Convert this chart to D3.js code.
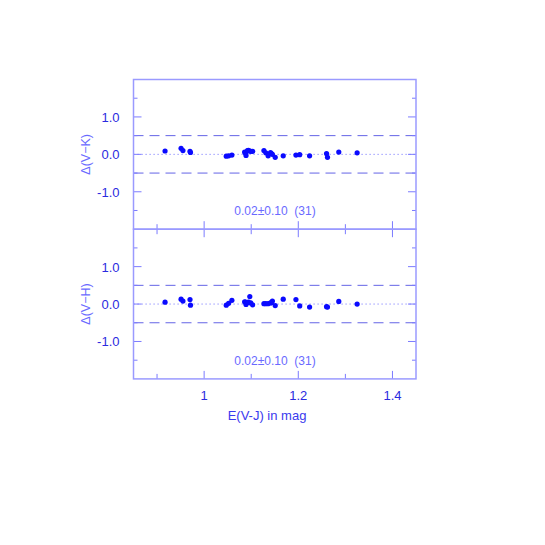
<!DOCTYPE html>
<html>
<head>
<meta charset="utf-8">
<script src="https://cdn.jsdelivr.net/npm/d3@7"></script>
<style>
  body { margin: 0; background: #fff; }
  svg text { font-family: "Liberation Sans", Arial, sans-serif; }
</style>
</head>
<body>
<svg id="chart" width="545" height="545"></svg>
<script>
// E(V-J) of each star, shared by both panels
const ebv = [0.917, 0.951, 0.955, 0.970, 0.971, 1.047, 1.052, 1.059, 1.086, 1.088,
             1.089, 1.092, 1.094, 1.097, 1.099, 1.103, 1.127, 1.131, 1.136, 1.141,
             1.143, 1.145, 1.151, 1.168, 1.195, 1.203, 1.224, 1.260, 1.262, 1.286, 1.325]
const dVK = [0.09, 0.16, 0.10, 0.08, 0.05, -0.05, -0.04, -0.02, 0.06, 0.03,
             -0.03, 0.10, 0.11, 0.09, 0.08, 0.08, 0.10, 0.04, -0.04, 0.05,
             0.02, 0.00, -0.08, -0.04, -0.02, -0.01, -0.04, 0.02, -0.08, 0.06, 0.04]
const dVH = [0.05, 0.13, 0.08, 0.12, -0.03, -0.03, 0.02, 0.10, 0.06, 0.05,
             -0.01, 0.04, 0.05, 0.20, 0.03, -0.02, 0.01, 0.01, 0.01, 0.03,
             0.04, 0.08, -0.04, 0.13, 0.12, -0.05, -0.08, -0.07, -0.08, 0.07, 0.00]
const panels = [
  { label: "\u0394(V\u2212K)", values: dVK, stat: "0.02\u00b10.10  (31)" },
  { label: "\u0394(V\u2212H)", values: dVH, stat: "0.02\u00b10.10  (31)" }
]
const xMajor = [1.0, 1.2, 1.4]
const xMinor = [0.9, 1.1, 1.3]
const yMajor = [-1, 0, 1]
const yMinor = [-1.5, -0.5, 0.5, 1.5]

const frameCol = "#9a9aff", tickCol = "#7b7bff"
const plotL = 133.5, plotR = 416, plotT = 79.5, panelH = 149.7

const svg = d3.select("#chart")
const x = d3.scaleLinear().domain([0.85, 1.45]).range([plotL, plotR])

panels.forEach((p, i) => {
  const y0 = plotT + i * panelH
  const y = d3.scaleLinear().domain([-2, 2]).range([y0 + panelH, y0])
  const g = svg.append("g")

  // guide lines
  g.selectAll("line.dash").data([-0.5, 0.5]).join("line")
    .attr("x1", plotL).attr("x2", plotR)
    .attr("y1", d => y(d)).attr("y2", d => y(d))
    .attr("stroke", "#6464e6").attr("stroke-width", 1)
    .attr("stroke-dasharray", "10,6")
  g.append("line")
    .attr("x1", plotL).attr("x2", plotR)
    .attr("y1", y(0)).attr("y2", y(0))
    .attr("stroke", "#8080ff").attr("stroke-width", 1)
    .attr("stroke-dasharray", "1.2,2.8")

  // y ticks (both sides, inward)
  const yt = yMajor.map(v => ({v, len: 8})).concat(yMinor.map(v => ({v, len: 4})))
  g.selectAll("line.yl").data(yt).join("line")
    .attr("x1", plotL).attr("x2", d => plotL + d.len)
    .attr("y1", d => y(d.v)).attr("y2", d => y(d.v))
    .attr("stroke", tickCol)
  g.selectAll("line.yr").data(yt).join("line")
    .attr("x1", plotR).attr("x2", d => plotR - d.len)
    .attr("y1", d => y(d.v)).attr("y2", d => y(d.v))
    .attr("stroke", tickCol)
  g.selectAll("text.yl").data(yMajor).join("text")
    .attr("x", plotL - 14).attr("y", d => y(d) + 5)
    .attr("text-anchor", "end").attr("font-size", 13)
    .attr("fill", "#2a2ae0")
    .text(d => d.toFixed(1))

  // x ticks on bottom edge, pointing up
  const xt = xMajor.map(v => ({v, len: 8})).concat(xMinor.map(v => ({v, len: 5})))
  g.selectAll("line.xb").data(xt).join("line")
    .attr("x1", d => x(d.v)).attr("x2", d => x(d.v))
    .attr("y1", y0 + panelH).attr("y2", d => y0 + panelH - d.len)
    .attr("stroke", tickCol)
  if (i > 0) {
    g.selectAll("line.xt").data(xt).join("line")
      .attr("x1", d => x(d.v)).attr("x2", d => x(d.v))
      .attr("y1", y0).attr("y2", d => y0 + d.len)
      .attr("stroke", tickCol)
  }

  // frame
  g.append("rect")
    .attr("x", plotL).attr("y", y0).attr("width", plotR - plotL).attr("height", panelH)
    .attr("fill", "none").attr("stroke", frameCol).attr("stroke-width", 1.5)

  // points
  g.selectAll("circle").data(p.values).join("circle")
    .attr("cx", (d, k) => x(ebv[k])).attr("cy", d => y(d))
    .attr("r", 2.6).attr("fill", "#0a0aff")

  g.append("text")
    .attr("x", 275).attr("y", y(-1.5) + 4.5)
    .attr("text-anchor", "middle").attr("font-size", 12)
    .attr("font-family", "'DejaVu Sans', sans-serif")
    .attr("fill", "#6a6aff")
    .style("white-space", "pre")
    .text(p.stat)

  g.append("text")
    .attr("transform", `translate(90,${y(0)}) rotate(-90)`)
    .attr("text-anchor", "middle").attr("font-size", 12.5)
    .attr("font-family", "'DejaVu Serif', serif")
    .attr("fill", "#6a6aff")
    .text(p.label)
})

// x tick labels and title
const yBottom = plotT + 2 * panelH
svg.selectAll("text.xl").data(xMajor).join("text")
  .attr("x", d => x(d)).attr("y", yBottom + 21)
  .attr("text-anchor", "middle").attr("font-size", 13)
  .attr("fill", "#2a2ae0")
  .text(d => String(+d.toFixed(1)))
svg.append("text")
  .attr("x", 267).attr("y", yBottom + 41)
  .attr("text-anchor", "middle").attr("font-size", 13)
  .attr("fill", "#3a3aee")
  .text("E(V-J) in mag")
</script>
</body>
</html>
